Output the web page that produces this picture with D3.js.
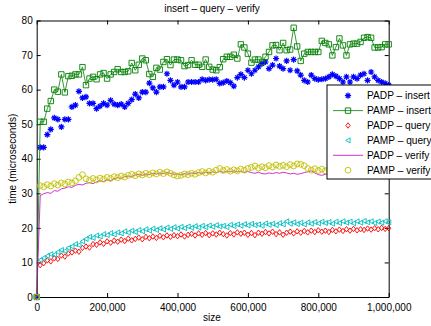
<!DOCTYPE html>
<html>
<head>
<meta charset="utf-8">
<script src="https://cdn.jsdelivr.net/npm/d3@7"></script>
<style>
html,body{margin:0;padding:0;background:#fff;}
svg{display:block;font-family:"Liberation Sans",Arial,Helvetica,sans-serif;}
</style>
</head>
<body>
<svg id="chart" width="431" height="326"></svg>
<script>
// ---------- data ----------
const title = "insert – query – verify";
const xLabel = "size";
const yLabel = "time (microseconds)";
const xTicks = [0, 200000, 400000, 600000, 800000, 1000000];
const yTicks = [0, 10, 20, 30, 40, 50, 60, 70, 80];
const sizeStart = 0, sizeStop = 1000000, sizeStep = 10000;
const seriesNames = ["PADP – insert", "PAMP – insert", "PADP – query", "PAMP – query", "PADP – verify", "PAMP – verify"];

const padpInsert = [
  0, 43.3, 43.3, 47, 48.5, 51.8, 51.4, 49.2, 51.4, 51.4,
  55, 55.5, 59.5, 57.6, 57.9, 56, 56, 54.5, 55.2, 56,
  55.5, 56.9, 55.8, 55.5, 55.8, 55, 56, 57.1, 58.7, 57.6,
  59.3, 59.3, 61.9, 60.5, 59.3, 60.8, 60.8, 64.6, 62.7, 61.3,
  62.2, 60.8, 60.8, 62.2, 62.2, 62.2, 62.2, 63, 62.7, 62.9,
  62.9, 63, 61.8, 62, 62.5, 62, 61, 63.5, 64.4, 63.5,
  65.6, 64.6, 65.6, 66.6, 67.5, 68, 66.1, 67.1, 69, 66.8,
  66.1, 68.3, 65.6, 68.7, 65.4, 64.2, 62.7, 62.2, 64.2, 63.2,
  62.9, 63, 63.2, 63.7, 64.4, 63.9, 63.2, 62.2, 63.7, 62.2,
  63.7, 63.2, 64.2, 64.6, 62.7, 65.1, 63.7, 62.7, 62.2, 61.8,
  61.3];
const pampInsert = [
  0, 50.7, 50.7, 54.5, 56.7, 60, 59.4, 64.4, 59.2, 63.9,
  64, 64.4, 64.4, 66.5, 61.3, 63.2, 63.7, 63, 64.4, 64.8,
  63.2, 64.4, 65.1, 65.9, 65.1, 65.1, 65.3, 67.7, 65.6, 67.2,
  69, 68.5, 64.5, 63.7, 66.3, 65.8, 68, 68.8, 67.1, 68.7,
  68.7, 68.5, 66.8, 67.1, 68.5, 67.2, 67.2, 66.6, 68.7, 66.6,
  65.8, 65.6, 66.5, 68.8, 69.5, 69.5, 70.1, 69, 73.1, 72.2,
  70.4, 67.8, 68.7, 68.7, 68, 69.5, 70.9, 72.8, 72.9, 71.4,
  73.5, 71.4, 71.6, 77.9, 72.5, 68.3, 70.4, 70.9, 70.9, 70.9,
  70.9, 74.1, 73.5, 73.1, 69.9, 72.3, 74.8, 72.8, 69.9, 73.1,
  73.3, 73.3, 73.8, 75, 75.2, 75, 72.2, 72.2, 72.3, 73.1,
  73.1];
const padpQuery = [
  0, 9.2, 9.8, 10.6, 10.3, 11.2, 11.0, 12.0, 11.7, 12.6,
  12.9, 13.4, 13.1, 14.2, 14.6, 14.3, 15.3, 15.1, 15.8, 15.4,
  16.1, 15.7, 16.3, 16.0, 16.6, 16.2, 16.9, 16.4, 16.8, 17.2,
  16.7, 17.4, 17.0, 17.5, 17.1, 17.7, 17.3, 17.8, 17.4, 17.9,
  17.6, 18.1, 17.5, 18.0, 18.3, 17.8, 18.4, 18.0, 18.5, 17.9,
  18.4, 18.1, 18.6, 18.2, 17.8, 18.5, 18.1, 18.7, 18.3, 18.6,
  18.0, 18.5, 17.9, 18.6, 18.3, 18.8, 18.4, 18.9, 18.2, 18.7,
  18.0, 18.6, 18.9, 18.4, 19.0, 18.6, 19.1, 18.7, 19.2, 18.8,
  19.3, 18.9, 19.2, 18.8, 19.4, 19.0, 19.5, 19.1, 19.6, 19.2,
  19.7, 19.3, 19.6, 19.4, 19.8, 19.5, 19.9, 19.6, 20.0, 19.7,
  19.9];
const pampQuery = [
  0, 10.7, 11.3, 11.9, 12.4, 12.2, 13.0, 13.6, 13.3, 14.2,
  14.6, 15.3, 15.0, 16.1, 16.8, 17.4, 17.1, 17.8, 17.5, 18.2,
  17.9, 18.5, 18.1, 18.7, 18.4, 19.0, 18.6, 19.2, 18.8, 19.4,
  19.0, 19.6, 19.2, 19.8, 19.4, 19.9, 19.5, 20.1, 19.7, 20.2,
  19.8, 20.3, 19.9, 20.4, 20.0, 20.5, 20.1, 20.6, 20.2, 20.7,
  20.3, 20.8, 20.4, 20.6, 20.2, 20.9, 20.5, 21.0, 20.6, 21.1,
  20.7, 21.2, 20.8, 21.0, 20.6, 21.3, 20.9, 21.2, 20.8, 21.4,
  21.0, 21.9, 21.2, 21.6, 21.1, 21.5, 21.0, 21.6, 21.2, 21.7,
  21.3, 21.8, 21.4, 21.7, 21.2, 21.8, 21.4, 21.9, 21.5, 21.8,
  21.3, 21.9, 21.5, 22.0, 21.6, 21.9, 21.4, 21.8, 21.5, 21.9,
  21.6];
const padpVerify = [
  0, 29.3, 29.9, 30.2, 30.0, 30.8, 30.6, 31.3, 31.5, 31.9,
  31.7, 32.3, 32.6, 32.4, 32.9, 33.1, 32.8, 33.3, 33.6, 33.4,
  33.9, 33.7, 34.2, 34.5, 34.3, 34.8, 35.0, 34.8, 35.3, 35.5,
  35.2, 35.6, 35.4, 35.8, 35.6, 35.9, 35.7, 36.0, 35.8, 35.5,
  35.6, 35.3, 35.7, 35.5, 35.9, 35.7, 36.0, 35.8, 36.1, 35.9,
  36.2, 36.0, 36.3, 36.1, 36.4, 36.2, 36.5, 36.2, 36.4, 36.1,
  36.3, 36.0, 35.8, 36.1, 35.7, 35.6, 35.9, 35.7, 36.0, 35.8,
  36.1, 35.9, 35.6, 35.8, 35.5, 35.7, 36.0, 36.2, 36.5, 35.9,
  35.4, 35.2, 35.5, 35.7, 35.4, 35.8, 35.6, 35.9, 35.7, 36.0,
  35.8, 36.1, 35.9, 36.2, 36.0, 36.3, 36.1, 36.4, 36.2, 36.5,
  36.3];
const pampVerify = [
  0, 32.2, 31.9, 32.5, 32.1, 32.8, 32.4, 33.0, 32.7, 33.3,
  33.0, 33.6, 34.6, 35.4, 34.2, 33.8, 34.3, 33.9, 34.4, 34.1,
  34.6, 34.3, 34.8, 34.5, 35.0, 34.7, 35.2, 35.5, 35.1, 35.6,
  35.3, 35.8, 35.4, 35.9, 35.6, 36.1, 35.7, 36.2, 35.8, 35.3,
  35.0, 35.2, 35.6, 35.4, 35.8, 35.5, 36.0, 36.3, 35.9, 36.4,
  36.1, 36.7, 37.2, 36.6, 36.9, 36.4, 36.8, 36.5, 37.0, 36.7,
  37.2, 37.5, 37.9, 37.3, 37.7, 37.4, 38.0, 37.6, 38.2, 37.8,
  38.1, 37.7, 38.3, 37.9, 38.5, 38.4, 38.0, 37.2, 36.7, 37.1,
  36.6, 37.0, 36.5, 36.9, 37.3, 36.8, 37.2, 36.9, 37.4, 37.0,
  37.5, 37.1, 37.6, 37.2, 37.7, 37.3, 37.8, 37.4, 37.9, 37.5,
  37.8];

// ---------- layout ----------
const L = 36.7, R = 388.7, T = 20.5, B = 297;
const sizes = d3.range(sizeStart, sizeStop + 1, sizeStep);

const svg = d3.select("#chart");
const x = d3.scaleLinear().domain([0, 1000000]).range([L, R]);
const y = d3.scaleLinear().domain([0, 80]).range([B, T]);

const sym = {
  asterisk: r => `M${-r},0H${r}M0,${-r}V${r}M${-r*0.7},${-r*0.7}L${r*0.7},${r*0.7}M${-r*0.7},${r*0.7}L${r*0.7},${-r*0.7}`,
  square: r => `M${-r},${-r}H${r}V${r}H${-r}Z`,
  diamond: r => `M0,${-r*1.3}L${r},0L0,${r*1.3}L${-r},0Z`,
  triLeft: r => `M${-r*1.1},0L${r},${-r*1.2}L${r},${r*1.2}Z`,
  circle: r => `M${r},0A${r},${r} 0 1,1 ${-r},0A${r},${r} 0 1,1 ${r},0Z`
};

const series = [
  {name: seriesNames[0], values: padpInsert, color: "#0000ff", line: false, marker: "asterisk", r: 3.1, sw: 1.2},
  {name: seriesNames[1], values: pampInsert, color: "#008000", line: true, marker: "square", r: 2.7, sw: 0.9},
  {name: seriesNames[2], values: padpQuery, color: "#ff0000", line: false, marker: "diamond", r: 2.1, sw: 0.9},
  {name: seriesNames[3], values: pampQuery, color: "#00bfbf", line: false, marker: "triLeft", r: 2.1, sw: 0.9},
  {name: seriesNames[4], values: padpVerify, color: "#bf00bf", line: true, marker: null, r: 0, sw: 0.9},
  {name: seriesNames[5], values: pampVerify, color: "#bfbf00", line: false, marker: "circle", r: 2.9, sw: 0.9}
];

const fontSize = 10;
const fam = '"Liberation Sans",Arial,Helvetica,sans-serif';
const gx = svg.append("g").attr("transform", `translate(0,${B})`)
  .call(d3.axisBottom(x).tickValues(xTicks).tickFormat(d3.format(",")).tickSizeInner(-4).tickSizeOuter(0).tickPadding(6.5));
const gxt = svg.append("g").attr("transform", `translate(0,${T})`)
  .call(d3.axisTop(x).tickValues(xTicks).tickFormat("").tickSizeInner(-4).tickSizeOuter(0));
const gy = svg.append("g").attr("transform", `translate(${L},0)`)
  .call(d3.axisLeft(y).tickValues(yTicks).tickSizeInner(-4).tickSizeOuter(0).tickPadding(4));
const gyr = svg.append("g").attr("transform", `translate(${R},0)`)
  .call(d3.axisRight(y).tickValues(yTicks).tickFormat("").tickSizeInner(-4).tickSizeOuter(0));
[gx, gxt, gy, gyr].forEach(g => {
  g.selectAll("path.domain").attr("stroke", "#000").attr("stroke-width", 1);
  g.selectAll(".tick line").attr("stroke", "#000").attr("stroke-width", 1);
  g.selectAll("text").attr("fill", "#000").attr("font-size", fontSize).attr("font-family", fam);
});

const plot = svg.append("g");
series.forEach(s => {
  const pts = s.values.map((v, i) => [sizes[i], v]);
  if (s.line) {
    plot.append("path")
      .attr("d", d3.line().x(d => x(d[0])).y(d => y(d[1]))(pts))
      .attr("fill", "none").attr("stroke", s.color).attr("stroke-width", 0.8);
  }
  if (s.marker) {
    plot.append("g").selectAll("path").data(pts).join("path")
      .attr("transform", d => `translate(${x(d[0])},${y(d[1])})`)
      .attr("d", sym[s.marker](s.r))
      .attr("fill", "none").attr("stroke", s.color).attr("stroke-width", s.sw);
  }
});

svg.append("text").attr("x", 212).attr("y", 12).attr("text-anchor", "middle")
  .attr("font-size", fontSize).attr("font-family", fam).attr("fill", "#000").text(title);
svg.append("text").attr("x", 212).attr("y", 321).attr("text-anchor", "middle")
  .attr("font-size", fontSize).attr("font-family", fam).attr("fill", "#000").text(xLabel);
svg.append("text").attr("transform", `translate(15.5,${(T + B) / 2}) rotate(-90)`)
  .attr("text-anchor", "middle").attr("font-size", fontSize).attr("font-family", fam)
  .attr("fill", "#000").text(yLabel);

// legend (box runs past the right edge, as in the original)
const lg = svg.append("g").attr("transform", "translate(327,85)");
lg.append("rect").attr("x", 0).attr("y", 0).attr("width", 200).attr("height", 94)
  .attr("fill", "#fff").attr("stroke", "#000").attr("stroke-width", 1);
const texts = [];
series.forEach((s, i) => {
  const cy = 10.7 + i * 14.9;
  const row = lg.append("g").attr("transform", `translate(0,${cy})`);
  if (s.line) {
    row.append("line").attr("x1", 6).attr("x2", 36).attr("y1", 0).attr("y2", 0)
      .attr("stroke", s.color).attr("stroke-width", 0.8);
  }
  if (s.marker) {
    row.append("path").attr("transform", "translate(21,0)").attr("d", sym[s.marker](s.r))
      .attr("fill", "none").attr("stroke", s.color).attr("stroke-width", s.sw);
  }
  texts.push(row.append("text").attr("x", 40).attr("y", 3.7).attr("font-size", fontSize)
    .attr("font-family", fam).attr("fill", "#000").text(s.name));
});
// fit legend text so "PADP – insert" spans ~63px as in the original
const w0 = texts[0].node().getComputedTextLength();
if (w0 > 0) {
  const fs = Math.max(9, Math.min(12.5, fontSize * 63 / w0));
  texts.forEach(t => t.attr("font-size", fs));
}
</script>
</body>
</html>
